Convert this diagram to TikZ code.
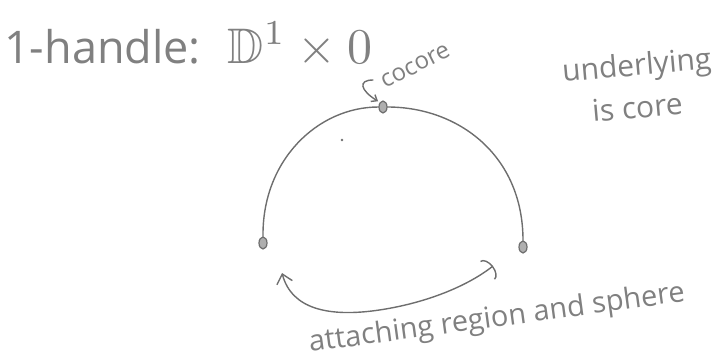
\documentclass[tikz,border=0pt]{standalone}
\usepackage{amssymb}
\usepackage{graphicx}
\usepackage{fontspec}
\setmainfont{Open Sans}
\usetikzlibrary{arrows.meta,shapes.geometric}
\definecolor{ink}{HTML}{6E6E6E}
\definecolor{txt}{HTML}{808080}
\tikzset{
  pen/.style={draw=ink, line width=1.4pt, line cap=round},
  dotnode/.style={ellipse, draw=ink, fill=ink!55, line width=1.2pt, minimum width=8pt, minimum height=12pt, inner sep=0pt},
  hand/.style={text=txt, inner sep=0pt, font=#1},
}
\begin{document}
\begin{tikzpicture}[x=1pt,y=-1pt]
\useasboundingbox (0,0) rectangle (718,360);
% title
\node[hand=\fontsize{45}{50}\selectfont, anchor=base west] (title) at (4,63)
  {1-handle:\hspace{0.6em}{\fontsize{10}{12}\selectfont\scalebox{5}{$\mathbb{D}^{1}\times 0$}}};
% end points and middle point
\node[dotnode] (l) at (263,243) {};
\node[dotnode] (t) at (383,107) {};
\node[dotnode] (r) at (523,247) {};
% the arc
\draw[pen] (l.north) .. controls (262,160) and (318,107) .. (t.west);
\draw[pen] (t.east) .. controls (458,107) and (523,155) .. (r.north);
% stray dot
\fill[ink] (342,140) circle (1.3pt);
% cocore label and arrow
\node[hand=\fontsize{24}{26}\selectfont, anchor=base west, rotate=27] (cocore) at (385,89) {cocore};
\coordinate (ca) at (373,80);
\draw[pen, -{Straight Barb[length=5pt,width=8pt]}, shorten >=2pt] (ca) .. controls (358,80) and (360,90) .. (t.north west);
% right note
\node[hand=\fontsize{30}{32}\selectfont, anchor=base west, rotate=5] (und) at (563,82) {underlying};
\node[hand=\fontsize{30}{32}\selectfont, anchor=base west, rotate=5] (isc) at (593,122) {is core};
% attaching arrow
\coordinate (al) at (282,273);
\coordinate (ar) at (493,266);
\draw[pen, {Straight Barb[length=9pt,width=16pt]}-{Arc Barb[length=7pt,width=24pt]}]
  (al) .. controls (292,310) and (330,316) .. (372,311) .. controls (420,305) and (465,288) .. (ar);
\node[hand=\fontsize{29}{31}\selectfont, anchor=base west, rotate=7.7] (att) at (310,352) {attaching region and sphere};
\end{tikzpicture}
\end{document}
